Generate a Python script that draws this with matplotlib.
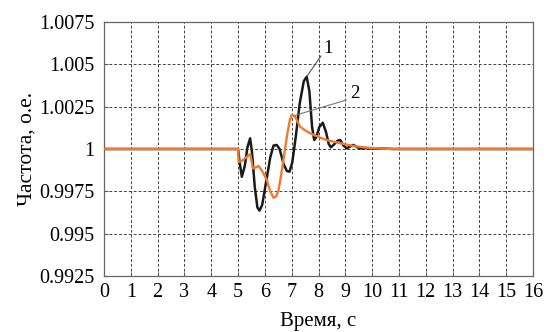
import matplotlib
matplotlib.use('Agg')
import matplotlib.pyplot as plt

# --- DATOS ---
t_1 = [0.0, 5.0, 5.05, 5.14, 5.25, 5.35, 5.45, 5.52, 5.62, 5.72, 5.80, 5.90, 6.05,
       6.20, 6.32, 6.44, 6.55, 6.70, 6.82, 6.92, 7.02, 7.15, 7.30, 7.45, 7.56, 7.66,
       7.76, 7.84, 7.92, 8.03, 8.16, 8.28, 8.38, 8.46, 8.60, 8.72, 8.81, 8.93, 9.06,
       9.18, 9.30, 9.45, 9.60, 9.80, 10.0, 10.5, 10.8, 16.0]
f_1 = [1.0, 1.0, 0.9993, 0.99836, 0.9990, 1.0001, 1.00063, 0.9998, 0.9978, 0.99655,
       0.99636, 0.9967, 0.9981, 0.9995, 1.0002, 1.00024, 1.0000, 0.9991, 0.9987,
       0.99866, 0.9992, 1.0007, 1.0027, 1.0040, 1.00427, 1.0034, 1.0013, 1.00053,
       1.0007, 1.0013, 1.00155, 1.0010, 1.0003, 1.0001, 1.0003, 1.0005, 1.00053,
       1.0002, 1.00004, 1.00015, 1.00024, 1.0001, 1.00003, 1.00005, 1.00003,
       1.00002, 1.0, 1.0]

t_2 = [0.0, 5.0, 5.02, 5.1, 5.3, 5.45, 5.5, 5.55, 5.65, 5.76, 5.9, 6.07, 6.2, 6.32,
       6.42, 6.51, 6.60, 6.69, 6.84, 6.93, 7.0, 7.13, 7.31, 7.50, 7.69, 8.03, 8.31,
       8.81, 9.30, 9.80, 10.4, 10.8, 16.0]
f_2 = [1.0, 1.0, 0.99925, 0.99925, 0.9995, 0.9997, 0.9993, 0.99886, 0.9989, 0.9990,
       0.9987, 0.99817, 0.9975, 0.99712, 0.9972, 0.99758, 0.9984, 0.99935, 1.00093,
       1.0017, 1.00201, 1.00191, 1.00132, 1.0011, 1.00093, 1.00069, 1.00053,
       1.00034, 1.00018, 1.00008, 1.00002, 1.0, 1.0]

x_ticks = list(range(0, 17))
y_ticks = [0.9925, 0.995, 0.9975, 1.0, 1.0025, 1.005, 1.0075]
y_tick_labels = ['0.9925', '0.995', '0.9975', '1', '1.0025', '1.005', '1.0075']

plt.rcParams['font.family'] = ['Liberation Serif', 'DejaVu Serif']

fig = plt.figure(figsize=(5.46, 3.32), dpi=100)
ax = fig.add_axes([0.1905, 0.1687, 0.7857, 0.765])

ax.plot(t_1, f_1, color='#1a1a1a', linewidth=1.8, zorder=3)
ax.plot(t_2, f_2, color='#f07a30', linewidth=1.7, zorder=4)

# etiquetas de las curvas
ax.plot([7.57, 8.09], [1.0043, 1.00549], color='#555555', linewidth=0.8, zorder=5)
ax.text(8.35, 1.00595, '1', fontsize=13.5, ha='center', va='center')
ax.plot([7.09, 9.03], [1.00197, 1.00289], color='#777777', linewidth=0.8, zorder=5)
ax.text(9.37, 1.00329, '2', fontsize=13.5, ha='center', va='center')

ax.set_xlim(0, 16)
ax.set_ylim(0.9925, 1.0075)
ax.set_xticks(x_ticks)
ax.set_yticks(y_ticks)
ax.set_yticklabels(y_tick_labels)
ax.tick_params(direction='in', length=3, width=0.8, color='#555555', labelsize=14.5)
ax.tick_params(axis='x', pad=5)
ax.tick_params(axis='y', pad=7)
ax.grid(True, color='#444444', linestyle=(0, (3, 2)), linewidth=0.7)
for s in ax.spines.values():
    s.set_color('#666666')
    s.set_linewidth(0.9)

ax.set_xlabel('Время, с', fontsize=15, labelpad=7)
ax.set_ylabel('Частота, о.е.', fontsize=15.5, labelpad=2)

fig.savefig('out.png', dpi=100)
